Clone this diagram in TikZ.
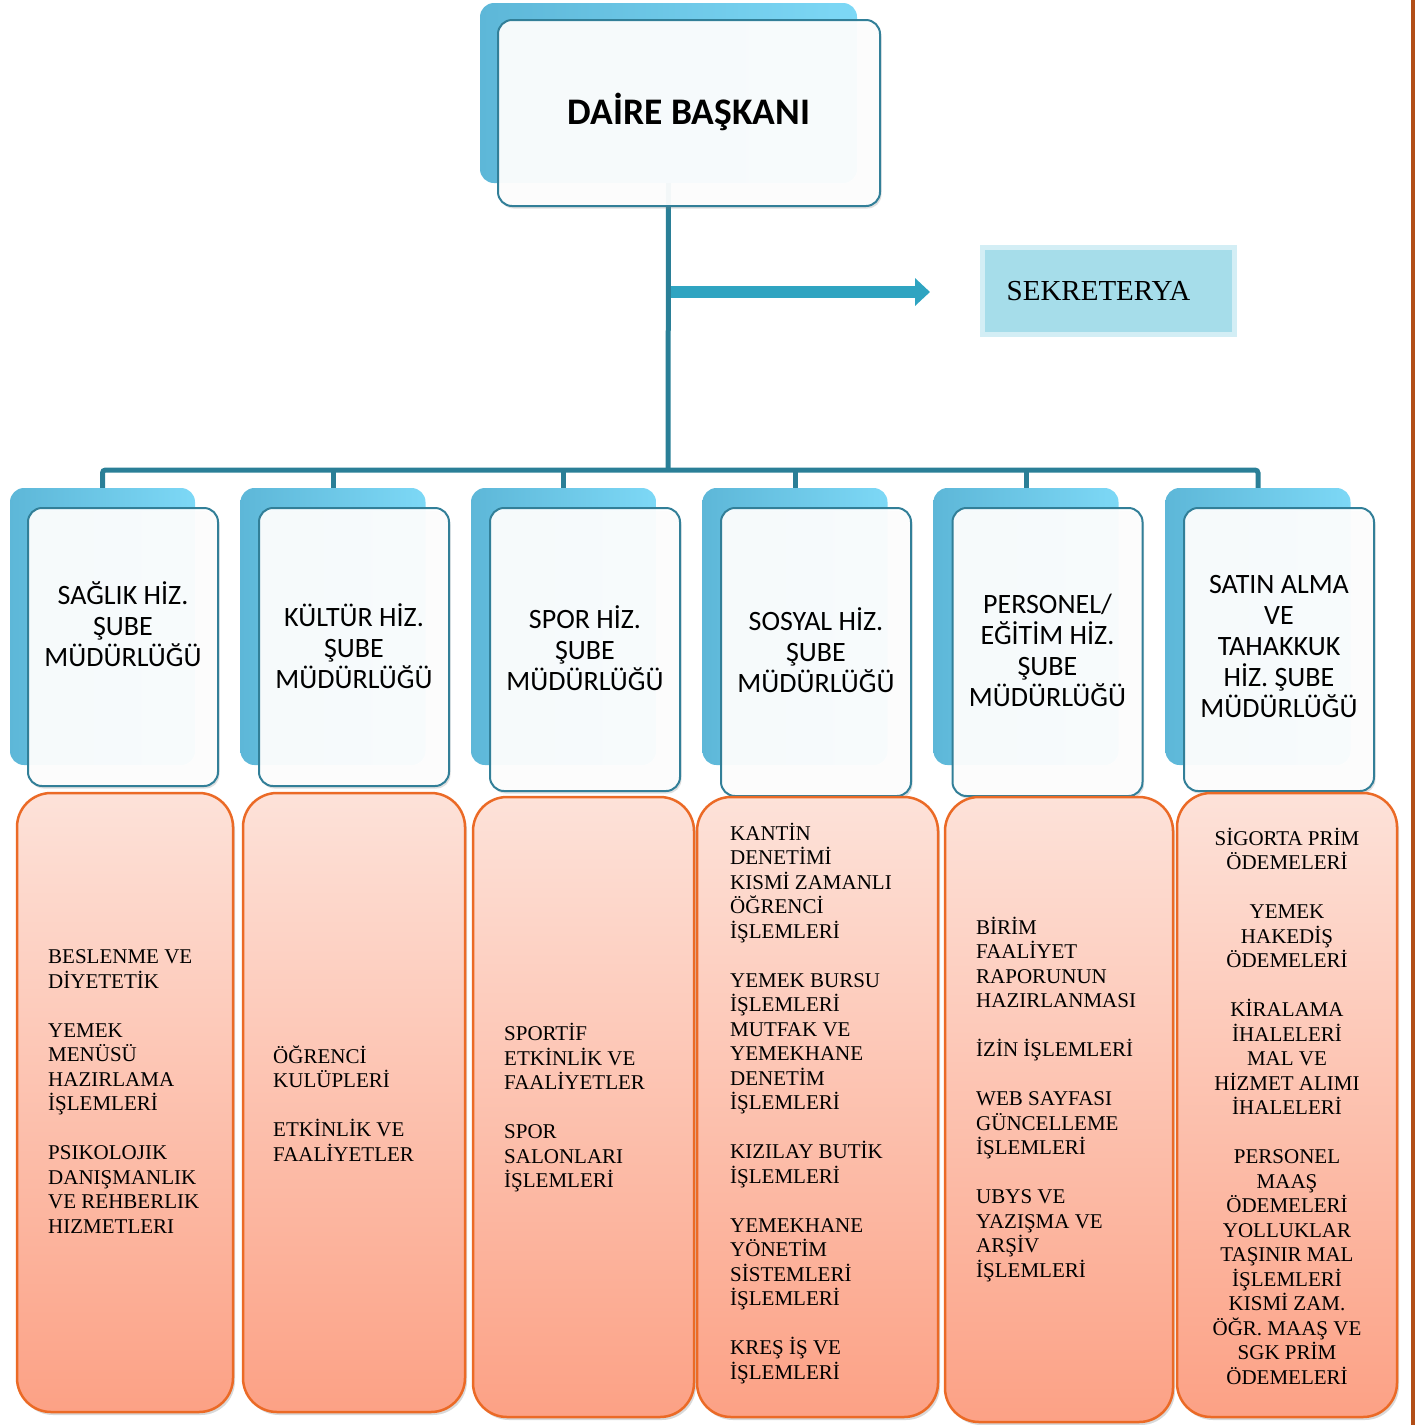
\documentclass[tikz,border=0pt]{standalone}
\usepackage{fontspec}
\setmainfont{Liberation Serif}
\newfontfamily\carlito{Carlito}
\usetikzlibrary{arrows.meta,shadows}
\definecolor{teal1}{HTML}{2A7F97}
\definecolor{arrowc}{HTML}{2FA4C1}
\definecolor{sekfill}{HTML}{A6DDEA}
\definecolor{sekdraw}{HTML}{D3EEF5}
\definecolor{backL}{HTML}{5DB7D8}
\definecolor{backR}{HTML}{7DD8F6}
\definecolor{frontdraw}{HTML}{327F98}
\definecolor{orTop}{HTML}{FDE2D9}
\definecolor{orBot}{HTML}{FCA185}
\definecolor{orDraw}{HTML}{EB6A26}
\definecolor{edgec}{HTML}{B24E17}
\tikzset{
  conn/.style={draw=teal1, line width=5pt, rounded corners=3pt},
  backbox/.style={rectangle, rounded corners=14pt, left color=backL, right color=backR, inner sep=0pt},
  frontbox/.style={rectangle, rounded corners=14pt, draw=frontdraw, line width=2pt, fill=white, fill opacity=0.94, text opacity=1, inner sep=0pt,
     drop shadow={shadow xshift=1.5pt, shadow yshift=-2.5pt, opacity=.25}},
  orbox/.style={rectangle, rounded corners=34pt, draw=orDraw, line width=2.5pt, top color=orTop, bottom color=orBot, inner sep=0pt,
     drop shadow={shadow xshift=2pt, shadow yshift=-3pt, opacity=.3}},
  unitlabel/.style={font=\carlito\fontsize{28}{31}\selectfont, align=center, inner sep=0pt},
  tasklabel/.style={font=\fontsize{21}{24.5}\selectfont, align=left, inner sep=0pt, anchor=west},
  tasklabelc/.style={font=\fontsize{21}{24.5}\selectfont, align=center, inner sep=0pt},
}
\newcommand{\blk}{\\[24.5pt]}
\begin{document}
\begin{tikzpicture}[x=1pt,y=-1pt]
\useasboundingbox (0,0) rectangle (1415,1425);
% right edge rule
\fill[edgec] (1410.5,0) rectangle (1415,1425);

% top boxes
\node[backbox, minimum width=377pt, minimum height=180pt] (dirb) at (668.5,93) {};
% coordinates of connectors
\coordinate (bus) at (668,470);
\coordinate (armstart) at (671,292);
\coordinate (armend) at (930,292);

% back boxes of units
\foreach \i/\cx in {1/102.5,2/333,3/563.5,4/795,5/1026,6/1258}{
  \node[backbox, minimum width=185pt, minimum height=277pt] (b\i) at (\cx,626.5) {};
}
% connectors
\draw[conn] (dirb.south) -- (bus);
\draw[conn] (b1.north) |- (bus) -| (b6.north);
\foreach \i in {2,3,4,5}{
  \draw[conn] (b\i.north) -- (b\i.north |- bus);
}
\draw[draw=arrowc, line width=12pt, -{Triangle[length=15pt,width=27pt]}] (armstart) -- (armend);

\node[frontbox, minimum width=382pt, minimum height=186pt] (dir) at (689,113) {};
\node[font=\carlito\bfseries\fontsize{37.5}{44}\selectfont, inner sep=0pt] (dirt) at (689,112) {DAİRE BAŞKANI};

\node[rectangle, fill=sekfill, draw=sekdraw, line width=5pt, minimum width=252pt, minimum height=87pt, inner sep=0pt,
  font=\fontsize{29}{33}\selectfont] (sek) at (1108.5,291) {\hspace*{-20pt}SEKRETERYA};

% front unit boxes
\foreach \i/\cx/\bot in {1/123/785,2/354/785,3/585/790,4/816/795,5/1047.5/795,6/1279/790}{
  \node[frontbox, minimum width=190pt, minimum height={\bot-507}, anchor=north] (f\i) at (\cx,507) {};
}
\node[unitlabel] (t1) at (123,624) {SAĞLIK HİZ.\\ŞUBE\\MÜDÜRLÜĞÜ};
\node[unitlabel] (t2) at (354,646) {KÜLTÜR HİZ.\\ŞUBE\\MÜDÜRLÜĞÜ};
\node[unitlabel] (t3) at (585,648) {SPOR HİZ.\\ŞUBE\\MÜDÜRLÜĞÜ};
\node[unitlabel] (t4) at (816,650) {SOSYAL HİZ.\\ŞUBE\\MÜDÜRLÜĞÜ};
\node[unitlabel] (t5) at (1047.5,650) {PERSONEL/\\EĞİTİM HİZ.\\ŞUBE\\MÜDÜRLÜĞÜ};
\node[unitlabel] (t6) at (1279,647) {SATIN ALMA\\VE\\TAHAKKUK\\HİZ. ŞUBE\\MÜDÜRLÜĞÜ};

% task boxes
\node[orbox, minimum width=216pt, minimum height=619pt] (o1) at (125,1102.5) {};
\node[orbox, minimum width=222pt, minimum height=619pt] (o2) at (354,1102.5) {};
\node[orbox, minimum width=221pt, minimum height=620pt] (o3) at (583.5,1107) {};
\node[orbox, minimum width=241pt, minimum height=620pt] (o4) at (817.5,1107) {};
\node[orbox, minimum width=228pt, minimum height=625pt] (o5) at (1059,1109.5) {};
\node[orbox, minimum width=220pt, minimum height=624pt] (o6) at (1287,1105) {};

\node[tasklabel] (k1) at (48,1091.5) {BESLENME VE\\DİYETETİK\blk YEMEK\\MENÜSÜ\\HAZIRLAMA\\İŞLEMLERİ\blk PSIKOLOJIK\\DANIŞMANLIK\\VE REHBERLIK\\HIZMETLERI};
\node[tasklabel] (k2) at (273,1103.5) {ÖĞRENCİ\\KULÜPLERİ\blk ETKİNLİK VE\\FAALİYETLER};
\node[tasklabel] (k3) at (504,1108) {SPORTİF\\ETKİNLİK VE\\FAALİYETLER\blk SPOR\\SALONLARI\\İŞLEMLERİ};
\node[tasklabel] (k4) at (730,1103.5) {KANTİN\\DENETİMİ\\KISMİ ZAMANLI\\ÖĞRENCİ\\İŞLEMLERİ\blk YEMEK BURSU\\İŞLEMLERİ\\MUTFAK VE\\YEMEKHANE\\DENETİM\\İŞLEMLERİ\blk KIZILAY BUTİK\\İŞLEMLERİ\blk YEMEKHANE\\YÖNETİM\\SİSTEMLERİ\\İŞLEMLERİ\blk KREŞ İŞ VE\\İŞLEMLERİ};
\node[tasklabel] (k5) at (976,1099.5) {BİRİM\\FAALİYET\\RAPORUNUN\\HAZIRLANMASI\blk İZİN İŞLEMLERİ\blk WEB SAYFASI\\GÜNCELLEME\\İŞLEMLERİ\blk UBYS VE\\YAZIŞMA VE\\ARŞİV\\İŞLEMLERİ};
\node[tasklabelc] (k6) at (1287,1106) {SİGORTA PRİM\\ÖDEMELERİ\blk YEMEK\\HAKEDİŞ\\ÖDEMELERİ\blk KİRALAMA\\İHALELERİ\\MAL VE\\HİZMET ALIMI\\İHALELERİ\blk PERSONEL\\MAAŞ\\ÖDEMELERİ\\YOLLUKLAR\\TAŞINIR MAL\\İŞLEMLERİ\\KISMİ ZAM.\\ÖĞR. MAAŞ VE\\SGK PRİM\\ÖDEMELERİ};
\end{tikzpicture}
\end{document}
